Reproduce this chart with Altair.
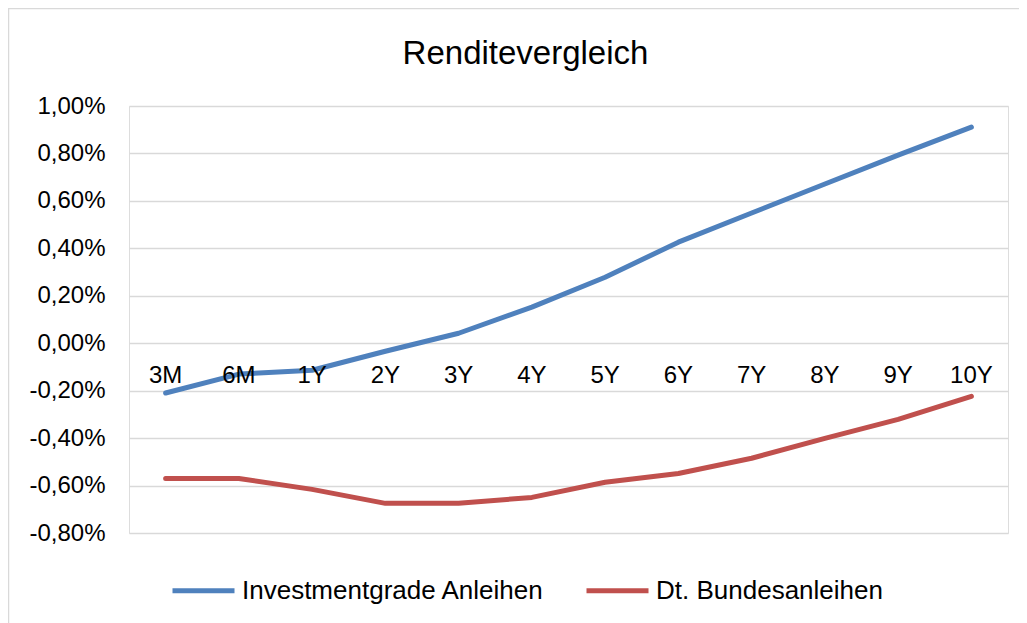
import altair as alt
import pandas as pd

categories = ["3M", "6M", "1Y", "2Y", "3Y", "4Y", "5Y", "6Y", "7Y", "8Y", "9Y", "10Y"]
investment_grade = [-0.21, -0.13, -0.114, -0.034, 0.042, 0.152, 0.278, 0.426, 0.549, 0.671, 0.793, 0.911]
bundesanleihen = [-0.57, -0.57, -0.616, -0.675, -0.675, -0.65, -0.586, -0.549, -0.485, -0.401, -0.321, -0.224]
series_names = ["Investmentgrade Anleihen", "Dt. Bundesanleihen"]
series_colors = ["#4F81BD", "#C0504D"]
y_ticks = [-0.8, -0.6, -0.4, -0.2, 0.0, 0.2, 0.4, 0.6, 0.8, 1.0]

rows = []
for i, c in enumerate(categories):
    rows.append({"Laufzeit": c, "idx": i, "Serie": series_names[0], "Rendite": investment_grade[i]})
    rows.append({"Laufzeit": c, "idx": i, "Serie": series_names[1], "Rendite": bundesanleihen[i]})
df = pd.DataFrame(rows)

FONT = "Liberation Sans"

x_enc = alt.X("Laufzeit:N", sort=categories,
              scale=alt.Scale(type="point", padding=0.5), axis=None)
y_scale = alt.Scale(domain=[-0.8, 1.0], nice=False, zero=False)

label_expr = "(datum.value < -0.0001 ? '-' : '') + replace(format(abs(datum.value), '.2f'), '.', ',') + '%'"

border = alt.Chart(pd.DataFrame({"a": [0]})).mark_rect(
    fill="transparent", stroke="#d9d9d9", strokeWidth=1.5
).encode(
    x=alt.value(-120.5), y=alt.value(-97.5), x2=alt.value(1200), y2=alt.value(800)
)

lines = alt.Chart(df).mark_line(strokeWidth=5, strokeCap="round", strokeJoin="round").encode(
    x=x_enc,
    y=alt.Y("Rendite:Q", scale=y_scale,
            axis=alt.Axis(values=y_ticks, labelExpr=label_expr, domain=False, ticks=False,
                          labelPadding=24, labelFontSize=24, labelFont=FONT, labelColor="#000000",
                          gridColor="#d9d9d9", gridWidth=1.5, title=None)),
    color=alt.Color("Serie:N", sort=series_names,
                    scale=alt.Scale(domain=series_names, range=series_colors),
                    legend=alt.Legend(title=None, orient="none", direction="horizontal",
                                      legendX=41, legendY=451,
                                      symbolType="stroke", symbolSize=3844, symbolStrokeWidth=5,
                                      labelFontSize=26, labelFont=FONT, labelColor="#000000",
                                      labelLimit=0, labelOffset=5, columnPadding=31)),
    order=alt.Order("idx:Q"),
)

labels = alt.Chart(pd.DataFrame({"Laufzeit": categories})).mark_text(
    fontSize=24, font=FONT, color="#000000", baseline="middle", dy=33
).encode(
    x=x_enc,
    y=alt.Y(datum=0, scale=y_scale),
    text="Laufzeit:N",
)

chart = alt.layer(border, lines, labels).properties(
    width=879, height=427,
    title=alt.TitleParams("Renditevergleich", fontSize=33, fontWeight="normal", font=FONT,
                          color="#000000", anchor="middle", dx=-43, baseline="alphabetic",
                          offset=-89),
    autosize=alt.AutoSizeParams(type="none"),
    padding={"left": 121, "top": 98, "right": 11, "bottom": 90},
).configure_view(stroke=None).configure(background="white")

chart.save("out.html", embed_options={"renderer": "svg", "actions": False})
